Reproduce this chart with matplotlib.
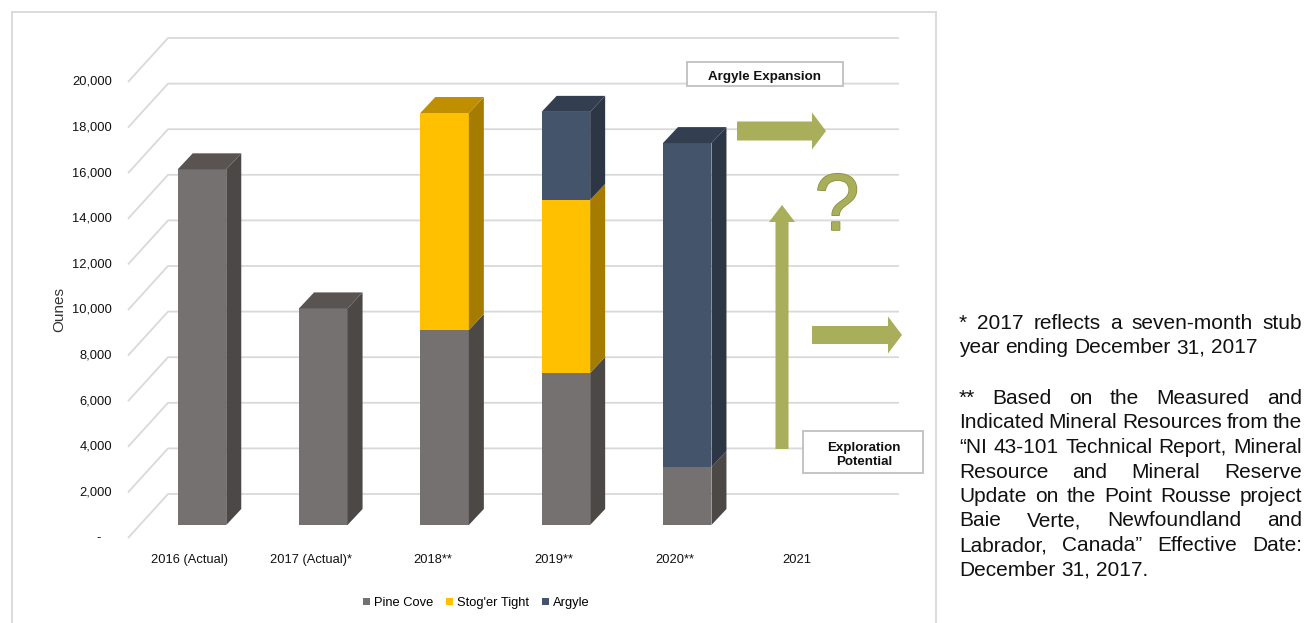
import matplotlib
matplotlib.use("Agg")
import matplotlib.pyplot as plt
import matplotlib.transforms as mtransforms
import matplotlib.patheffects as pe
from matplotlib import font_manager
from matplotlib.patches import Polygon, Rectangle, FancyArrow

# ---- data (ounces) ----
categories = ["2016 (Actual)", "2017 (Actual)*", "2018**", "2019**", "2020**", "2021"]
pine_cove = [15600, 9500, 8550, 6670, 2540, 0]
stoger_tight = [0, 0, 9520, 7590, 0, 0]
argyle = [0, 0, 0, 3860, 14210, 0]
series_names = ["Pine Cove", "Stog'er Tight", "Argyle"]
y_ticks = [0, 2000, 4000, 6000, 8000, 10000, 12000, 14000, 16000, 18000, 20000]

note_1 = ["* 2017 reflects a seven-month stub",
          "year ending December 31, 2017"]
note_2 = ["** Based on the Measured and",
          "Indicated Mineral Resources from the",
          "\u201cNI 43-101 Technical Report, Mineral",
          "Resource and Mineral Reserve",
          "Update on the Point Rousse project",
          "Baie Verte, Newfoundland and",
          "Labrador, Canada\u201d Effective Date:",
          "December 31, 2017."]

# ---- styling ----
front_cols = ["#757170", "#ffc000", "#44546a"]
side_cols = ["#4c4846", "#a67c00", "#2c3645"]
top_cols = ["#595452", "#bf8f00", "#333f50"]
olive = "#a9ae5a"
grid_col = "#d9d9d9"

installed = {f.name for f in font_manager.fontManager.ttflist}
narrow = "Liberation Sans Narrow" if "Liberation Sans Narrow" in installed else "Liberation Sans"
lab_size = 10.5 if narrow == "Liberation Sans Narrow" else 9.3

W, H = 1316, 623
fig = plt.figure(figsize=(W / 100, H / 100), dpi=100)
pix = mtransforms.Affine2D().scale(1 / W, -1 / H).translate(0, 1) + fig.transFigure

# mapping of the bar front plane: x=0 -> 202px, y=0 -> 525px
X0, XS, Y0, YS = 202, 121.3, 525, 0.0228
ax = fig.add_axes([12 / W, 0, (936 - 12) / W, (623 - 12) / H])
ax.set_xlim((12 - X0) / XS, (936 - X0) / XS)
ax.set_ylim((Y0 - 623) / YS, (Y0 - 12) / YS)
ax.set_xticks([]); ax.set_yticks([])
for s in ["left", "top", "right"]:
    ax.spines[s].set_color(grid_col); ax.spines[s].set_linewidth(1.3)
ax.spines["bottom"].set_visible(False)

# pseudo-3D geometry (data units)
BW = 0.4                       # bar width
BDX, BDY = 15 / XS, 16 / YS    # bar depth
FX, FY = -0.61, -13 / YS       # front edge of floor / wall
BX, BY = -0.28, 31 / YS        # back wall
RX = (899 - X0) / XS

for v in y_ticks:
    ax.plot([FX, BX, RX], [v + FY, v + BY, v + BY], color=grid_col, lw=1.3, zorder=1,
            solid_capstyle="butt")
    lab = f"{v:,}" if v else "-   "
    ax.text((112 - X0) / XS, v + FY, lab, ha="right", va="center",
            fontsize=lab_size, family=narrow, color="#111111")

for i, c in enumerate(categories):
    ax.text(i - 12 / XS, (Y0 - 560) / YS, c, ha="center", va="center",
            fontsize=lab_size, family=narrow, color="#111111")

ax.text((59 - X0) / XS, (Y0 - 309) / YS, "Ounes", rotation=90, ha="center", va="center",
        fontsize=11, family="Liberation Sans", color="#333333")

# bars: front faces through ax.bar, sides/tops as polygons
xs = list(range(len(categories)))
bottoms = [0] * len(categories)
for k, vals in enumerate([pine_cove, stoger_tight, argyle]):
    ax.bar(xs, vals, width=BW, bottom=bottoms, color=front_cols[k], label=series_names[k],
           zorder=3, linewidth=0)
    for i, v in enumerate(vals):
        if v <= 0:
            continue
        b = bottoms[i]
        r = i + BW / 2
        ax.add_patch(Polygon([(r, b), (r + BDX, b + BDY), (r + BDX, b + v + BDY), (r, b + v)],
                             closed=True, color=side_cols[k], lw=0, zorder=3))
    bottoms = [b + v for b, v in zip(bottoms, vals)]

for i, tot in enumerate(bottoms):
    if tot <= 0:
        continue
    k = [j for j, s in enumerate([pine_cove, stoger_tight, argyle]) if s[i] > 0][-1]
    l, r = i - BW / 2, i + BW / 2
    ax.add_patch(Polygon([(l, tot), (l + BDX, tot + BDY), (r + BDX, tot + BDY), (r, tot)],
                         closed=True, color=top_cols[k], lw=0, zorder=3))

ax.legend(loc="center", bbox_to_anchor=(476, 603), bbox_transform=pix, ncol=3, frameon=False,
          handlelength=0.55, handleheight=0.55, handletextpad=0.3, columnspacing=1.0,
          prop={"family": narrow, "size": lab_size})

# annotations: arrows, question mark, boxes
for x, y, dx, dy, w, hw, hl in [(737, 131, 89, 0, 19, 37, 14),
                                (812, 335, 90, 0, 18, 37, 14),
                                (782, 449, 0, -244, 13, 26, 17)]:
    fig.patches.append(FancyArrow(x, y, dx, dy, width=w, head_width=hw, head_length=hl,
                                  length_includes_head=True, color=olive, lw=0,
                                  transform=pix, zorder=5))
fig.text(837, 209, "?", transform=pix, ha="center", va="center", fontsize=58,
         family="Liberation Sans", color=olive,
         path_effects=[pe.withStroke(linewidth=1.2, foreground="#8c9140")], zorder=5)

for (x0, y0, x1, y1) in [(687, 62, 843, 86), (803, 431, 923, 473)]:
    fig.patches.append(Rectangle((x0, y0), x1 - x0, y1 - y0, transform=pix, fill=True,
                                 facecolor="white", edgecolor="#bfbfbf", lw=1.3, zorder=5))
fig.text(765, 77, "Argyle Expansion", transform=pix, ha="center", va="center",
         fontsize=9.6, family=narrow, weight="bold", color="#111111", zorder=6)
fig.text(864, 455, "Exploration\nPotential", transform=pix, ha="center", va="center",
         fontsize=9.6, family=narrow, weight="bold", color="#111111",
         linespacing=1.2, zorder=6)

# justified footnotes on the right
renderer = fig.canvas.get_renderer()


def justified(lines, x0, x1, y_first, step):
    for n, line in enumerate(lines):
        y = y_first + n * step
        words = line.split(" ")
        texts = [fig.text(0, y, w, transform=pix, ha="left", va="baseline", fontsize=15,
                          family="Liberation Sans", color="#111111") for w in words]
        widths = [t.get_window_extent(renderer).width for t in texts]
        if n == len(lines) - 1 or len(words) == 1:
            space = 0.278 * 15 * 100 / 72
        else:
            space = (x1 - x0 - sum(widths)) / (len(words) - 1)
        x = x0
        for t, wd in zip(texts, widths):
            t.set_x(x)
            x += wd + space


justified(note_1, 959, 1302, 329, 24.3)
justified(note_2, 959, 1302, 404, 24.5)

fig.savefig("out.png", dpi=100)
